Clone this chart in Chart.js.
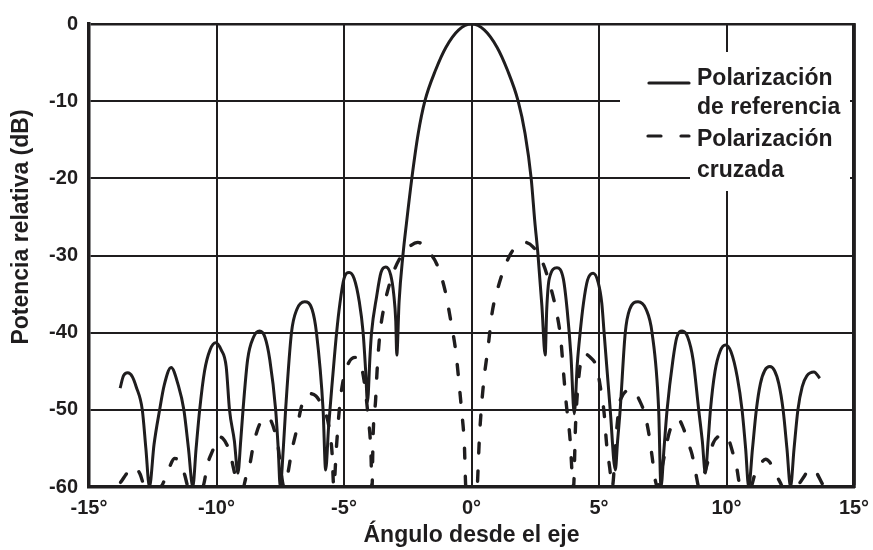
<!DOCTYPE html>
<html><head><meta charset="utf-8">
<script src="https://cdn.jsdelivr.net/npm/chart.js@4/dist/chart.umd.min.js"></script>
<style>html,body{margin:0;padding:0;background:#fff;}canvas{display:block;}</style>
</head><body>
<canvas id="c" width="873" height="550"></canvas>
<script>
const angleTicks = [-15, -10, -5, 0, 5, 10, 15];
const levelTicks = [-60, -50, -40, -30, -20, -10, 0];

const refAngle = [-13.78,-13.65,-13.48,-13.3,-13.15,-12.91,-12.77,-12.63,-12.45,-12.23,-12.05,-11.78,-11.5,-11.28,-11.1,-10.93,-10.8,-10.66,-10.47,-10.25,-10.03,-9.82,-9.62,-9.49,-9.3,-9.16,-9.05,-8.96,-8.78,-8.55,-8.31,-8.1,-7.91,-7.68,-7.58,-7.5,-7.38,-7.29,-7.06,-6.85,-6.54,-6.25,-6.08,-5.82,-5.72,-5.6,-5.45,-5.29,-5.16,-5.0,-4.8,-4.6,-4.4,-4.25,-4.15,-4.08,-3.98,-3.92,-3.72,-3.55,-3.36,-3.17,-3.05,-2.97,-2.93,-2.84,-2.69,-2.55,-2.34,-2.09,-1.83,-1.4,-1.0,-0.5,0,0.5,1.0,1.4,1.83,2.1,2.34,2.48,2.61,2.76,2.89,2.95,3.05,3.35,3.6,3.75,3.9,4.03,4.15,4.26,4.39,4.55,4.77,4.97,5.11,5.2,5.44,5.64,5.73,5.83,6.03,6.2,6.53,6.85,7.08,7.34,7.43,7.55,7.67,7.9,8.05,8.26,8.48,8.69,8.91,9.05,9.17,9.28,9.37,9.55,9.75,9.96,10.18,10.42,10.61,10.75,10.87,11.02,11.17,11.33,11.5,11.7,11.88,12.05,12.22,12.37,12.51,12.65,12.8,12.97,13.15,13.43,13.66];
const refLevel = [-47.2,-45.6,-45.2,-45.7,-47,-50,-55,-60,-54.5,-50,-46.8,-44.5,-46.8,-50,-55,-60,-55,-50,-45,-42.2,-41.3,-42.2,-44.4,-50,-54,-58.2,-54,-50,-43.5,-40.6,-39.8,-40.6,-43.5,-50,-55,-60,-55,-50,-40,-37,-36,-37,-40,-50,-57.8,-52,-46,-40,-36.2,-33,-32.2,-33,-36,-40,-45,-49,-43,-40,-35.3,-32.2,-31.5,-32.5,-35,-38.5,-42.9,-36,-30,-25.8,-20,-14.2,-10,-5.9,-3.0,-0.75,0,-0.75,-3.0,-5.9,-10,-14.2,-20,-25.5,-30,-36.5,-42.9,-37,-33,-31.6,-33,-37,-43,-50.5,-44,-40,-36.2,-33.2,-32.3,-33.5,-36.2,-40,-50,-57.8,-54,-50,-40,-37,-36,-37,-40,-50,-60,-55,-50,-43.5,-40.6,-39.8,-40.6,-43.5,-50,-54,-58.2,-54,-50,-45,-42.4,-41.6,-42.5,-45.7,-50,-55,-60,-55,-50,-46.6,-44.9,-44.4,-44.9,-46.6,-50,-55,-60,-55,-50,-47,-45.6,-45.1,-45.9];

const crossAngle = [-13.76,-13.41,-13.2,-13.0,-12.8,-12.2,-12.04,-11.84,-11.65,-11.45,-11.25,-11.1,-10.55,-10.34,-10.14,-9.95,-9.75,-9.49,-9.22,-9.1,-8.95,-8.85,-8.7,-8.55,-8.3,-8.05,-7.85,-7.6,-7.35,-7.2,-7.06,-6.85,-6.67,-6.4,-6.1,-5.85,-5.6,-5.47,-5.4,-5.3,-5.17,-5.05,-4.8,-4.55,-4.35,-4.2,-4.05,-3.95,-3.9,-3.86,-3.76,-3.7,-3.6,-3.45,-3.15,-2.8,-2.45,-2.1,-1.63,-1.35,-1.04,-0.8,-0.61,-0.49,-0.39,-0.28,-0.22,0.22,0.26,0.3,0.37,0.49,0.65,0.8,1.08,1.55,2.1,2.42,2.8,3.05,3.28,3.5,3.6,3.71,3.87,3.95,4.0,4.08,4.2,4.4,4.66,4.92,5.07,5.2,5.3,5.42,5.52,5.68,5.85,6.3,6.62,6.8,6.95,7.08,7.2,7.3,7.5,7.75,7.95,8.1,8.3,8.5,8.65,8.8,8.92,9.2,9.48,9.7,9.9,10.1,10.25,10.4,10.55,10.95,11.1,11.27,11.53,11.7,11.85,12.12,12.2,12.65,12.84,13.05,13.25,13.45,13.76];
const crossLevel = [-59.4,-57.8,-57.4,-58.3,-60,-60,-59.1,-57.4,-56.3,-56.7,-58.4,-60,-60,-56.9,-55.2,-53.5,-53.7,-55.4,-59.1,-60,-60,-58.8,-57.2,-54.5,-51.8,-50.9,-51.5,-54.5,-60,-58.2,-55.5,-52.5,-49.6,-47.9,-48.2,-49.6,-52,-55.5,-60,-55,-49.5,-46.5,-43.8,-43.2,-44,-46.5,-51,-55,-60,-53.5,-48.7,-44.8,-40.4,-37,-33,-30.3,-28.9,-28.3,-29.7,-31.2,-34.5,-38.7,-42.6,-46.5,-50,-54.5,-60,-60,-57.5,-54.3,-50.5,-46,-41.9,-37.6,-33.7,-29.7,-28.3,-28.9,-31,-33.5,-36.5,-40.8,-44.8,-49,-54,-58.5,-60,-52,-46,-42.7,-43.2,-44.6,-47.4,-50.4,-54.5,-57.5,-60,-53,-48.6,-47.4,-49,-50.6,-53,-56,-59,-60,-57,-53,-51.5,-51.2,-52.3,-54.3,-55.8,-58.3,-60,-57.5,-54.3,-53.4,-53.2,-54,-55.6,-57.5,-60,-60,-58.5,-57.4,-56.4,-56.8,-57.8,-59.5,-60,-60,-59.6,-58.6,-57.6,-57.8,-59.6];

const seriesNames = [['Polarización', 'de referencia'], ['Polarización', 'cruzada']];
const xTitle = 'Ángulo desde el eje';
const yTitle = 'Potencia relativa (dB)';

const INK = '#1f1d1e';
const FONT = '"Liberation Sans", Arial, sans-serif';

const toPoints = (xs, ys) => xs.map((x, i) => ({x: x, y: ys[i]}));

const overlay = {
  id: 'overlay',
  beforeDatasetsDraw(chart) {
    const ctx = chart.ctx;
    const rx = chart.scales.x.getPixelForValue(angleTicks[angleTicks.length - 1]);
    ctx.save();
    ctx.fillStyle = '#ffffff';
    ctx.fillRect(620, 52, rx - 4 - 620, 110);
    ctx.fillRect(690, 162, rx - 4 - 690, 29);
    ctx.restore();
  },
  afterDraw(chart) {
    const ctx = chart.ctx;
    const a = chart.chartArea;
    const rx = chart.scales.x.getPixelForValue(angleTicks[angleTicks.length - 1]);
    ctx.save();
    ctx.strokeStyle = INK;
    ctx.lineWidth = 3.5;
    ctx.beginPath(); ctx.moveTo(rx, a.top - 1); ctx.lineTo(rx, a.bottom + 1); ctx.stroke();
    ctx.fillStyle = INK;
    ctx.font = 'bold 23px ' + FONT;
    ctx.textAlign = 'left';
    ctx.textBaseline = 'alphabetic';
    ctx.lineWidth = 3.2;
    ctx.lineCap = 'round';
    ctx.beginPath(); ctx.moveTo(649, 83); ctx.lineTo(689, 83); ctx.stroke();
    ctx.beginPath(); ctx.moveTo(648, 136); ctx.lineTo(661, 136); ctx.stroke();
    ctx.beginPath(); ctx.moveTo(681, 136); ctx.lineTo(689, 136); ctx.stroke();
    ctx.fillText(seriesNames[0][0], 697, 85);
    ctx.fillText(seriesNames[0][1], 697, 114);
    ctx.fillText(seriesNames[1][0], 697, 146);
    ctx.fillText(seriesNames[1][1], 697, 177);
    ctx.translate(22, 227);
    ctx.rotate(-Math.PI / 2);
    ctx.textAlign = 'center';
    ctx.textBaseline = 'middle';
    ctx.fillText(yTitle, 0, 0);
    ctx.restore();
  }
};

new Chart(document.getElementById('c'), {
  type: 'line',
  data: {
    datasets: [
      {
        label: seriesNames[0].join(' '),
        data: toPoints(refAngle, refLevel),
        borderColor: INK, borderWidth: 3, pointRadius: 0,
        cubicInterpolationMode: 'monotone', fill: false
      },
      {
        label: seriesNames[1].join(' '),
        data: toPoints(crossAngle, crossLevel),
        borderColor: INK, borderWidth: 3.4, pointRadius: 0,
        borderDash: [10, 18], borderCapStyle: 'round',
        cubicInterpolationMode: 'monotone', fill: false
      }
    ]
  },
  options: {
    responsive: false, animation: false, devicePixelRatio: 1,
    layout: {padding: {left: 0, top: 24, right: 19, bottom: 0}},
    plugins: {legend: {display: false}, tooltip: {enabled: false}},
    scales: {
      x: {
        type: 'linear', min: -15, max: 15,
        afterBuildTicks: s => { s.ticks = angleTicks.map(v => ({value: v})); },
        afterFit: s => { s.height = 63; s.paddingLeft = 0; s.paddingRight = 0; },
        grid: {color: INK, lineWidth: c => (c.tick && c.tick.value === 15) ? 3.5 : 2, drawTicks: false},
        border: {color: INK, width: 3.5},
        ticks: {padding: 9, color: INK, font: {family: FONT, size: 20, weight: 'bold'},
                callback: v => v + '°', maxRotation: 0, autoSkip: false},
        title: {display: true, text: xTitle, color: INK, font: {family: FONT, size: 23, weight: 'bold'},
                padding: {top: 0, bottom: 1}}
      },
      y: {
        type: 'linear', min: -60, max: 0,
        afterBuildTicks: s => { s.ticks = levelTicks.map(v => ({value: v})); },
        afterFit: s => { s.width = 89; s.paddingTop = 0; s.paddingBottom = 0; },
        grid: {color: INK, lineWidth: c => (c.tick && c.tick.value === 0) ? 2.5 : 2, drawTicks: false},
        border: {color: INK, width: 3.5},
        ticks: {padding: 11, color: INK, font: {family: FONT, size: 20, weight: 'bold'}, autoSkip: false}
      }
    }
  },
  plugins: [overlay]
});
</script>
</body></html>
